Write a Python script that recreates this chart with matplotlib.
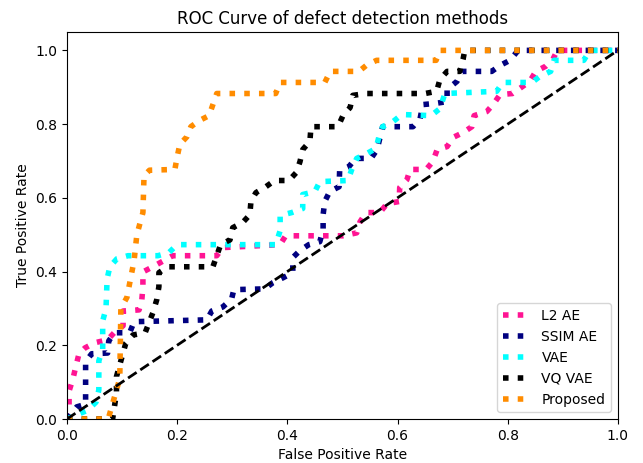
import matplotlib
matplotlib.use("Agg")
import matplotlib.pyplot as plt

labels = ["L2 AE", "SSIM AE", "VAE", "VQ VAE", "Proposed"]
colors = ["deeppink", "navy", "aqua", "black", "darkorange"]

l2_fpr = [0.0, 0.004, 0.004, 0.011, 0.016, 0.022, 0.033, 0.051, 0.074, 0.087, 0.102, 0.102,
          0.131, 0.136, 0.138, 0.138, 0.156, 0.192, 0.272, 0.283, 0.387, 0.397, 0.501, 0.526,
          0.532, 0.543, 0.568, 0.581, 0.603, 0.604, 0.617, 0.623, 0.652, 0.664, 0.672, 0.69,
          0.701, 0.719, 0.735, 0.739, 0.762, 0.775, 0.786, 0.809, 0.84, 0.851, 0.869, 0.882,
          0.89, 1.0]
l2_tpr = [0.0, 0.035, 0.076, 0.109, 0.141, 0.177, 0.193, 0.207, 0.215, 0.236, 0.253, 0.293,
          0.296, 0.323, 0.359, 0.399, 0.413, 0.443, 0.443, 0.465, 0.473, 0.497, 0.497, 0.505,
          0.535, 0.56, 0.56, 0.584, 0.59, 0.628, 0.649, 0.677, 0.677, 0.698, 0.731, 0.739,
          0.764, 0.777, 0.793, 0.823, 0.834, 0.856, 0.88, 0.883, 0.916, 0.943, 0.957, 0.976,
          1.0, 1.0]

ssim_fpr = [0.0, 0.018, 0.034, 0.034, 0.045, 0.074, 0.076, 0.087, 0.114, 0.122, 0.254, 0.263,
            0.283, 0.299, 0.303, 0.359, 0.374, 0.392, 0.41, 0.41, 0.423, 0.439, 0.459, 0.465,
            0.465, 0.468, 0.477, 0.494, 0.495, 0.512, 0.524, 0.552, 0.563, 0.573, 0.628, 0.641,
            0.646, 0.668, 0.69, 0.69, 0.708, 0.717, 0.771, 0.786, 0.804, 0.819, 1.0]
ssim_tpr = [0.0, 0.033, 0.04, 0.155, 0.177, 0.179, 0.212, 0.234, 0.234, 0.264, 0.269, 0.293,
            0.304, 0.326, 0.351, 0.353, 0.37, 0.383, 0.397, 0.438, 0.457, 0.473, 0.481, 0.514,
            0.554, 0.59, 0.617, 0.63, 0.674, 0.685, 0.707, 0.707, 0.731, 0.793, 0.793, 0.815,
            0.853, 0.856, 0.861, 0.894, 0.916, 0.943, 0.943, 0.959, 0.973, 1.0, 1.0]

vae_fpr = [0.0, 0.038, 0.053, 0.058, 0.058, 0.065, 0.065, 0.071, 0.073, 0.078, 0.091, 0.111,
           0.165, 0.185, 0.2, 0.379, 0.387, 0.387, 0.408, 0.428, 0.428, 0.45, 0.459, 0.51,
           0.517, 0.526, 0.544, 0.561, 0.566, 0.573, 0.592, 0.608, 0.661, 0.677, 0.686, 0.78,
           0.791, 0.844, 0.858, 0.878, 0.884, 0.938, 0.947, 0.951, 1.0]
vae_tpr = [0.0, 0.024, 0.046, 0.079, 0.158, 0.188, 0.266, 0.299, 0.38, 0.413, 0.435, 0.443,
           0.443, 0.451, 0.473, 0.473, 0.511, 0.552, 0.56, 0.571, 0.609, 0.617, 0.644, 0.647,
           0.677, 0.707, 0.72, 0.734, 0.764, 0.793, 0.807, 0.826, 0.823, 0.842, 0.883, 0.889,
           0.913, 0.913, 0.929, 0.943, 0.973, 0.973, 0.995, 1.0, 1.0]

vq_fpr = [0.0, 0.083, 0.09, 0.09, 0.107, 0.12, 0.142, 0.156, 0.163, 0.167, 0.167, 0.183,
          0.265, 0.272, 0.279, 0.296, 0.301, 0.319, 0.332, 0.334, 0.343, 0.361, 0.377, 0.403,
          0.416, 0.423, 0.428, 0.441, 0.443, 0.492, 0.501, 0.514, 0.519, 0.543, 0.65, 0.671,
          0.677, 0.69, 0.713, 0.719, 0.722, 1.0]
vq_tpr = [0.0, 0.0, 0.07, 0.115, 0.206, 0.228, 0.234, 0.288, 0.323, 0.359, 0.397, 0.413,
          0.413, 0.443, 0.473, 0.486, 0.519, 0.533, 0.554, 0.59, 0.614, 0.63, 0.647, 0.647,
          0.668, 0.698, 0.731, 0.753, 0.793, 0.793, 0.823, 0.845, 0.878, 0.883, 0.883, 0.889,
          0.921, 0.943, 0.943, 0.976, 1.0, 1.0]

prop_fpr = [0.0, 0.075, 0.096, 0.098, 0.109, 0.122, 0.127, 0.138, 0.14, 0.15, 0.196, 0.2,
            0.205, 0.218, 0.225, 0.241, 0.258, 0.265, 0.272, 0.379, 0.387, 0.468, 0.478, 0.53,
            0.544, 0.562, 0.67, 0.677, 1.0]
prop_tpr = [0.0, 0.0, 0.11, 0.30, 0.33, 0.43, 0.50, 0.56, 0.66, 0.675, 0.677, 0.71,
            0.745, 0.766, 0.793, 0.81, 0.823, 0.853, 0.883, 0.883, 0.913, 0.913, 0.943, 0.943,
            0.96, 0.973, 0.973, 1.0, 1.0]

curves = [(l2_fpr, l2_tpr), (ssim_fpr, ssim_tpr), (vae_fpr, vae_tpr),
          (vq_fpr, vq_tpr), (prop_fpr, prop_tpr)]

fig = plt.figure(figsize=(6.43, 4.63), dpi=100)
ax = fig.add_axes([0.104, 0.095, 0.857, 0.836])
for (f, t), lab, c in zip(curves, labels, colors):
    ax.plot(f, t, linestyle=":", color=c, lw=4, label=lab)
ax.plot([0, 1], [0, 1], "k--", lw=2)
ax.set_xlim(0.0, 1.0)
ax.set_ylim(0.0, 1.05)
ax.set_xlabel("False Positive Rate")
ax.set_ylabel("True Positive Rate")
ax.set_title("ROC Curve of defect detection methods")
ax.legend(loc="lower right")
fig.savefig("out.png", dpi=100)
